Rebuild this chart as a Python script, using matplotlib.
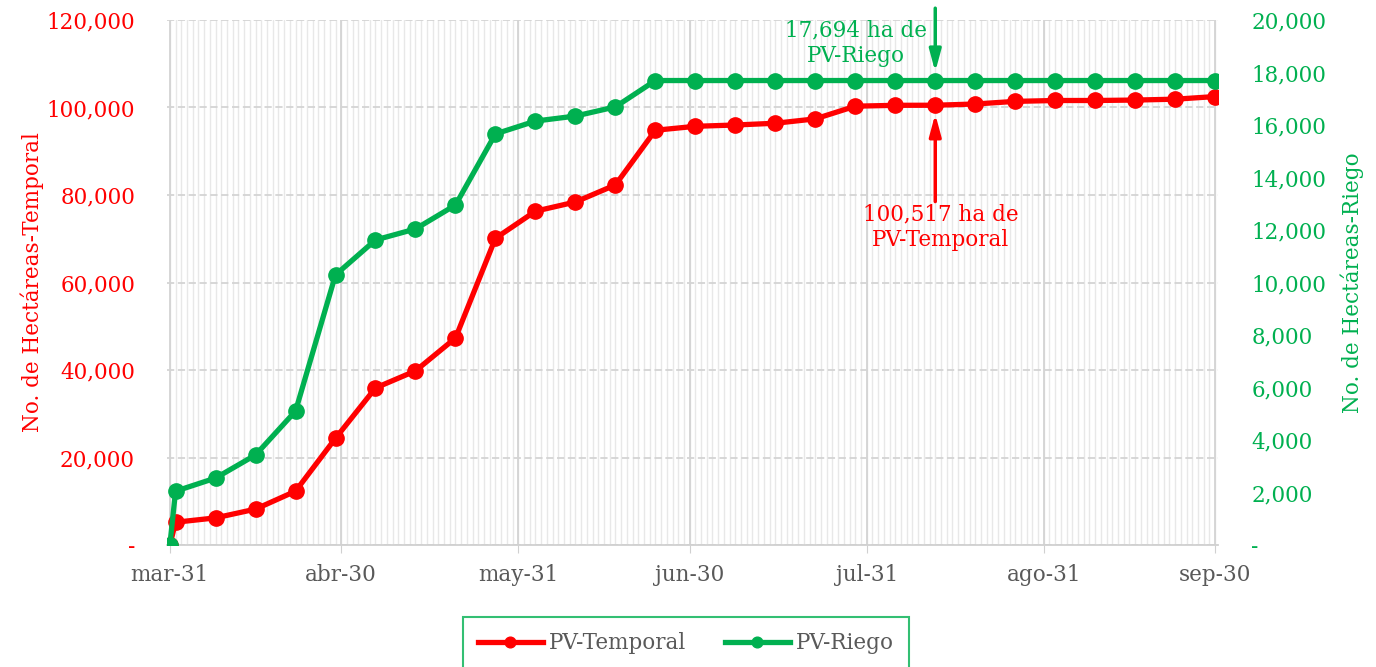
import matplotlib
matplotlib.use("Agg")
import matplotlib.pyplot as plt
import numpy as np
import pandas as pd

dates = ["2020-03-31", "2020-04-01", "2020-04-08", "2020-04-15", "2020-04-22", "2020-04-29",
         "2020-05-06", "2020-05-13", "2020-05-20", "2020-05-27", "2020-06-03", "2020-06-10",
         "2020-06-17", "2020-06-24", "2020-07-01", "2020-07-08", "2020-07-15", "2020-07-22",
         "2020-07-29", "2020-08-05", "2020-08-12", "2020-08-19", "2020-08-26", "2020-09-02",
         "2020-09-09", "2020-09-16", "2020-09-23", "2020-09-30"]
temporal = [0, 5200, 6200, 8200, 12300, 24400, 35900, 39800, 47300, 70100, 76300, 78400,
            82300, 94800, 95700, 96000, 96400, 97400, 100300, 100500, 100517, 100800,
            101400, 101600, 101600, 101700, 101900, 102500]
riego = [0, 2050, 2550, 3430, 5100, 10290, 11620, 12040, 12950, 15660, 16150, 16340,
         16690, 17694, 17694, 17694, 17694, 17694, 17694, 17694, 17694, 17694,
         17694, 17694, 17694, 17694, 17694, 17694]
tick_dates = ["2020-03-31", "2020-04-30", "2020-05-31", "2020-06-30", "2020-07-31", "2020-08-31", "2020-09-30"]
tick_labels = ["mar-31", "abr-30", "may-31", "jun-30", "jul-31", "ago-31", "sep-30"]

RED = "#ff0000"
GREEN = "#00b050"
GRAY = "#595959"
FONT = "DejaVu Serif"
FS = 15.5
plt.rcParams["font.family"] = FONT

x = pd.to_datetime(dates)
xt = pd.to_datetime(tick_dates)

fig = plt.figure(figsize=(13.76, 6.67), dpi=100)
ax = fig.add_axes([167/1376, 1-545/667, (1218-167)/1376, (545-20)/667])
ax2 = ax.twinx()

# daily minor gridlines
days = pd.date_range("2020-03-31", "2020-09-30", freq="D")
for d in days:
    ax.axvline(d, color="#e8e8e8", lw=1.0, zorder=0)
for d in xt:
    ax.axvline(d, color="#d4d4d4", lw=1.3, zorder=0.5)

ax.plot(x, temporal, color=RED, lw=3.8, marker="o", ms=11, zorder=3, label="PV-Temporal")
ax2.plot(x, riego, color=GREEN, lw=3.8, marker="o", ms=11, zorder=3, label="PV-Riego")

ax.set_xlim(pd.Timestamp("2020-03-30 12:00"), pd.Timestamp("2020-09-30 12:00"))
ax.set_ylim(0, 120000)
ax2.set_ylim(0, 20000)
ax.set_yticks(np.arange(0, 120001, 20000))
ax2.set_yticks(np.arange(0, 20001, 2000))
fmt = lambda v, p: "-" if v == 0 else f"{int(v):,}"
ax.yaxis.set_major_formatter(matplotlib.ticker.FuncFormatter(fmt))
ax2.yaxis.set_major_formatter(matplotlib.ticker.FuncFormatter(fmt))
ax.set_xticks(xt)
ax.set_xticklabels(tick_labels)

ax.grid(axis="y", color="#d4d4d4", lw=1.3, ls=(0, (4, 2)), zorder=0.6)
ax.set_axisbelow(True)

ax.tick_params(axis="x", colors="#d0d0d0", labelcolor=GRAY, labelsize=FS, length=6, pad=8)
ax.tick_params(axis="y", length=0, labelcolor=RED, labelsize=FS, pad=23)
ax2.tick_params(axis="y", length=0, labelcolor=GREEN, labelsize=FS, pad=24)

for a in (ax, ax2):
    for s in ["top", "right", "left", "bottom"]:
        a.spines[s].set_visible(False)
ax.spines["bottom"].set_visible(True)
ax.spines["bottom"].set_color("#d0d0d0")
ax.spines["bottom"].set_linewidth(1.3)

ax.set_ylabel("No. de Hectáreas-Temporal", color=RED, fontsize=FS, labelpad=2)
ax2.set_ylabel("No. de Hectáreas-Riego", color=GREEN, fontsize=FS, labelpad=10)

ann_x = pd.Timestamp("2020-08-12")
ax2.annotate("", xy=(ann_x, 17694 + 330), xytext=(ann_x, 20450),
             arrowprops=dict(arrowstyle="-|>,head_length=1.3,head_width=0.35", color=GREEN, lw=2.5,
                             shrinkA=0, shrinkB=0),
             annotation_clip=False, zorder=5)
ax2.text(pd.Timestamp("2020-08-10 12:00"), 19120, "17,694 ha de\nPV-Riego", color=GREEN, fontsize=FS,
         ha="right", va="center", linespacing=1.25, zorder=5, multialignment="center")
ax.annotate("", xy=(ann_x, 100517 - 2000), xytext=(ann_x, 78500),
            arrowprops=dict(arrowstyle="-|>,head_length=1.3,head_width=0.35", color=RED, lw=2.5,
                            shrinkA=0, shrinkB=0),
            zorder=5)
ax.text(pd.Timestamp("2020-08-13"), 72600, "100,517 ha de\nPV-Temporal", color=RED, fontsize=FS,
        ha="center", va="center", linespacing=1.25, zorder=5)

h1, l1 = ax.get_legend_handles_labels()
h2, l2 = ax2.get_legend_handles_labels()
leg = fig.legend(h1 + h2, l1 + l2, loc="upper center", bbox_to_anchor=(686/1376, 1-617/667),
                 ncol=2, fontsize=FS, frameon=True, fancybox=False, borderpad=0.7,
                 borderaxespad=0, handlelength=3, handletextpad=0.3, columnspacing=1.8,
                 markerscale=0.7)
leg.get_frame().set_edgecolor(GREEN)
leg.get_frame().set_linewidth(1.5)
for t in leg.get_texts():
    t.set_color(GRAY)

fig.savefig("out.png", dpi=100)
